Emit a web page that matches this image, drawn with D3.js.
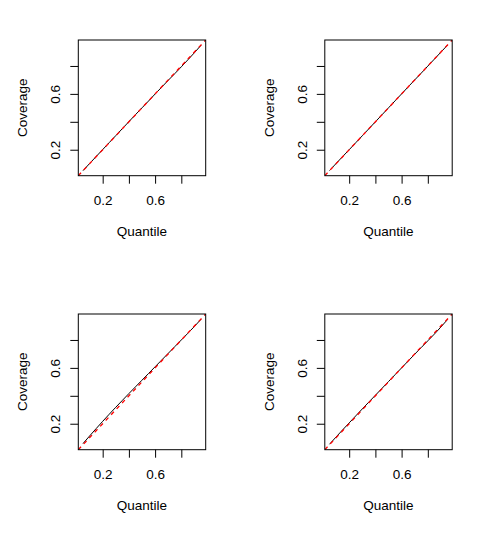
<!DOCTYPE html>
<html>
<head>
<meta charset="utf-8">
<script src="https://cdn.jsdelivr.net/npm/d3@7"></script>
<style>
  body { margin: 0; background: #fff; }
  text { font-family: "Liberation Sans", Arial, Helvetica, sans-serif; fill: #000; }
</style>
</head>
<body>
<svg id="chart"></svg>
<script>
// quantile levels (x) shared by every panel
var quantile = [0.05, 0.10, 0.15, 0.20, 0.25, 0.30, 0.35, 0.40, 0.45, 0.50,
                0.55, 0.60, 0.65, 0.70, 0.75, 0.80, 0.85, 0.90, 0.95];

var coverage1 = [0.050, 0.101, 0.151, 0.201, 0.251, 0.301, 0.351, 0.401, 0.451, 0.500,
                 0.549, 0.599, 0.648, 0.697, 0.745, 0.794, 0.844, 0.895, 0.948];
var coverage2 = [0.051, 0.101, 0.151, 0.200, 0.250, 0.300, 0.350, 0.400, 0.450, 0.500,
                 0.550, 0.600, 0.650, 0.700, 0.749, 0.799, 0.849, 0.899, 0.949];
var coverage3 = [0.058, 0.112, 0.165, 0.217, 0.268, 0.318, 0.367, 0.416, 0.464, 0.512,
                 0.560, 0.608, 0.656, 0.704, 0.752, 0.800, 0.848, 0.897, 0.948];
var coverage4 = [0.053, 0.105, 0.156, 0.206, 0.256, 0.306, 0.355, 0.404, 0.453, 0.502,
                 0.551, 0.600, 0.649, 0.698, 0.746, 0.794, 0.842, 0.893, 0.946];

var axisTicks = [0.2, 0.4, 0.6, 0.8];
var tickLabels = {0.2: "0.2", 0.6: "0.6"};   // R drops the overlapping ones
var xTitle = "Quantile";
var yTitle = "Coverage";

var panels = [coverage1, coverage2, coverage3, coverage4];

// page and panel layout (2 x 2, like par(mfrow = c(2,2)))
var W = 493, H = 548;
var cellW = W / 2, cellH = H / 2;
var margin = {top: 40, right: 40.8, bottom: 98.3, left: 78.3},
    width = cellW - margin.left - margin.right,
    height = cellH - margin.top - margin.bottom;
var fontSize = "13.5px";

var svg = d3.select("#chart")
    .attr("width", W)
    .attr("height", H);

// R style 4% padding around the data range
var ext = d3.extent(quantile);
var pad = (ext[1] - ext[0]) * 0.04;
var usr = [ext[0] - pad, ext[1] + pad];

panels.forEach(function(cov, i) {
  var col = i % 2, row = Math.floor(i / 2);
  var g = svg.append("g")
      .attr("transform", "translate(" + (col * cellW + margin.left) + "," + (row * cellH + margin.top) + ")");

  var x = d3.scaleLinear().domain(usr).range([0, width]);
  var y = d3.scaleLinear().domain(usr).range([height, 0]);

  var clipId = "clip" + i;
  g.append("clipPath").attr("id", clipId)
    .append("rect").attr("width", width).attr("height", height);

  // coverage line
  var line = d3.line()
      .x(function(d, j) { return x(quantile[j]); })
      .y(function(d) { return y(d); });
  g.append("path")
      .datum(cov)
      .attr("d", line)
      .attr("fill", "none")
      .attr("stroke", "#000")
      .attr("stroke-width", 1);

  // reference diagonal y = x (abline)
  g.append("line")
      .attr("clip-path", "url(#" + clipId + ")")
      .attr("x1", x(usr[0])).attr("y1", y(usr[0]))
      .attr("x2", x(usr[1])).attr("y2", y(usr[1]))
      .attr("stroke", "#ff0000")
      .attr("stroke-width", 1.3)
      .attr("stroke-dasharray", "4,4");

  // box
  g.append("rect")
      .attr("width", width)
      .attr("height", height)
      .attr("fill", "none")
      .attr("stroke", "#000")
      .attr("stroke-width", 1);

  // x axis
  var xa = g.append("g")
      .attr("transform", "translate(0," + height + ")")
      .call(d3.axisBottom(x)
        .tickValues(axisTicks)
        .tickSize(8)
        .tickPadding(12)
        .tickFormat(function(d) { return tickLabels[d] || ""; }));
  xa.select(".domain").remove();
  xa.selectAll("text").style("font-size", fontSize);
  xa.selectAll("line").attr("stroke", "#000");

  // y axis, labels parallel to the axis
  var ya = g.append("g")
      .call(d3.axisLeft(y)
        .tickValues(axisTicks)
        .tickSize(8)
        .tickFormat(function(d) { return tickLabels[d] || ""; }));
  ya.select(".domain").remove();
  ya.selectAll("line").attr("stroke", "#000");
  ya.selectAll("text")
      .attr("x", null).attr("dy", null)
      .attr("transform", "translate(-18.3,0) rotate(-90)")
      .style("text-anchor", "middle")
      .style("font-size", fontSize);

  // axis titles
  g.append("text")
      .attr("x", width / 2)
      .attr("y", height + 60.3)
      .style("text-anchor", "middle")
      .style("font-size", fontSize)
      .text(xTitle);
  g.append("text")
      .attr("transform", "translate(-51.3," + (height / 2) + ") rotate(-90)")
      .style("text-anchor", "middle")
      .style("font-size", fontSize)
      .text(yTitle);
});
</script>
</body>
</html>
